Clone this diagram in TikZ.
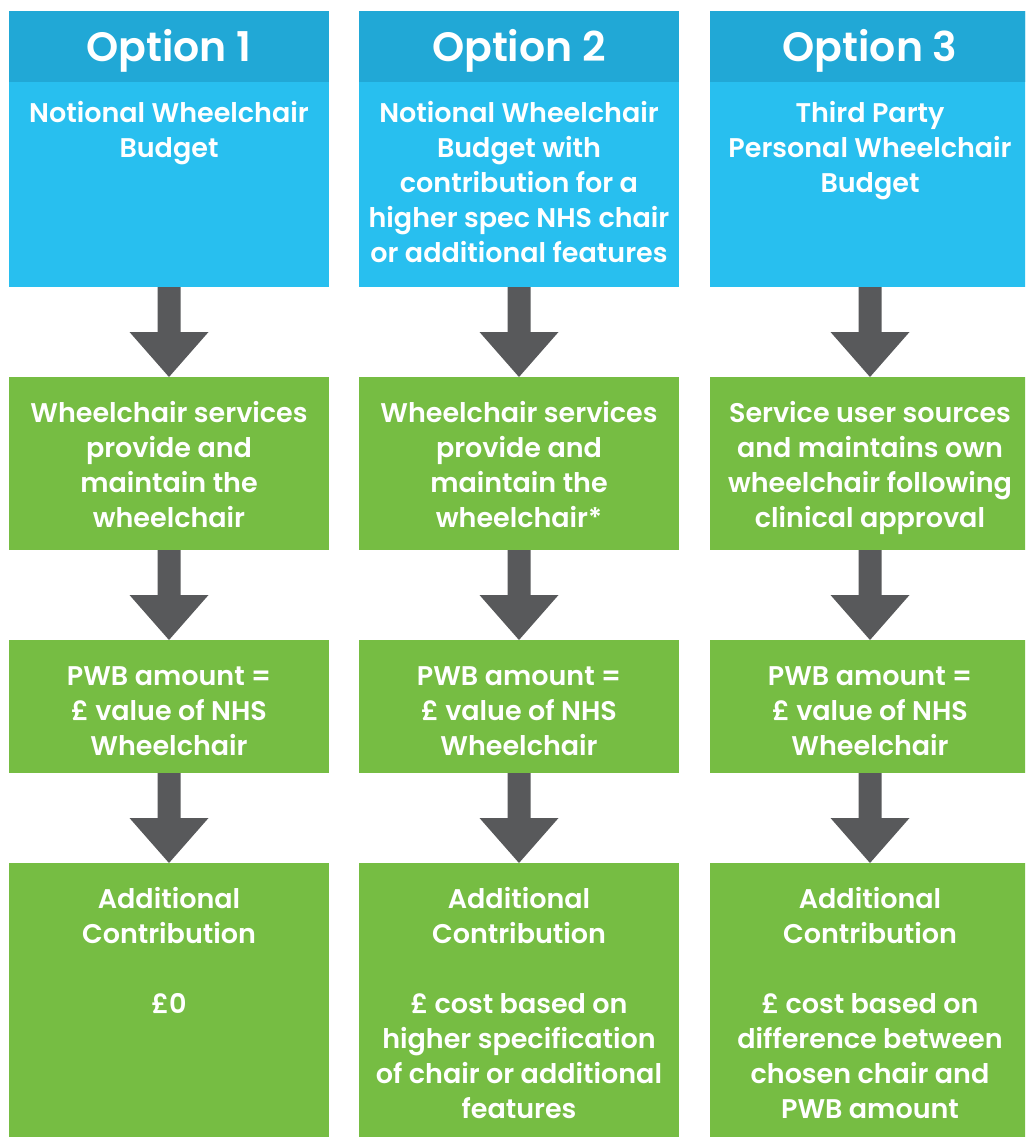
\documentclass[tikz,border=0pt]{standalone}
\usepackage{fontspec}
\setmainfont{Poppins}[BoldFont={Poppins SemiBold}]
\usetikzlibrary{calc}
\definecolor{hdrblue}{RGB}{33,168,214}
\definecolor{boxblue}{RGB}{40,191,239}
\definecolor{boxgreen}{RGB}{118,189,67}
\definecolor{arrowgray}{RGB}{88,89,91}
\tikzset{
 panel/.style={inner sep=0pt, outer sep=0pt, anchor=north west, minimum width=320pt},
 bluepanel/.style={panel, fill=boxblue},
 hdrpanel/.style={panel, fill=hdrblue, minimum height=71pt},
 greenpanel/.style={panel, fill=boxgreen},
 txt/.style={text=white, font=\bfseries\fontsize{27}{35}\selectfont, align=center, inner sep=0pt, anchor=north},
 hdrtxt/.style={text=white, font=\bfseries\fontsize{41}{50}\selectfont, inner sep=0pt, anchor=base},
 arrowshape/.style={fill=arrowgray}
}
\newcommand\blockarrow[2]{%
  \fill[arrowshape] let \p1=(#1.south), \p2=(#2.north), \p3=($(#1.south)!0.5!(#2.north)$) in
    (\x1-11.5pt,\y1) -- (\x1+11.5pt,\y1) -- (\x1+11.5pt,\y3) -- (\x1+39.5pt,\y3) --
    (\x1,\y2) -- (\x1-39.5pt,\y3) -- (\x1-11.5pt,\y3) -- cycle;}
\begin{document}
\begin{tikzpicture}[x=1pt,y=-1pt]
\useasboundingbox (0,0) rectangle (1025,1137);
\clip (0,0) rectangle (1025,1137);
% column 1
\node[bluepanel, minimum height=276pt] (b1) at (9,11) {};
\node[hdrpanel] (h1) at (9,11) {};
\node[greenpanel, minimum height=173pt] (g1) at (9,377) {};
\node[greenpanel, minimum height=133pt] (p1) at (9,640) {};
\node[greenpanel, minimum height=274pt] (a1) at (9,863) {};
% column 2
\node[bluepanel, minimum height=276pt] (b2) at (359,11) {};
\node[hdrpanel] (h2) at (359,11) {};
\node[greenpanel, minimum height=173pt] (g2) at (359,377) {};
\node[greenpanel, minimum height=133pt] (p2) at (359,640) {};
\node[greenpanel, minimum height=274pt] (a2) at (359,863) {};
% column 3
\node[bluepanel, minimum height=276pt] (b3) at (710,11) {};
\node[hdrpanel] (h3) at (710,11) {};
\node[greenpanel, minimum height=173pt] (g3) at (710,377) {};
\node[greenpanel, minimum height=133pt] (p3) at (710,640) {};
\node[greenpanel, minimum height=274pt] (a3) at (710,863) {};
% arrows
\blockarrow{b1}{g1}\blockarrow{g1}{p1}\blockarrow{p1}{a1}
\blockarrow{b2}{g2}\blockarrow{g2}{p2}\blockarrow{p2}{a2}
\blockarrow{b3}{g3}\blockarrow{g3}{p3}\blockarrow{p3}{a3}
% texts column 1
\node[hdrtxt] (o1) at (169,62) {Option 1};
\node[txt] (n1) at (169,97.5) {\strut Notional Wheelchair\\Budget};
\node[txt] (w1) at (169,397.5) {\strut Wheelchair services\\provide and\\maintain the\\wheelchair};
\node[txt] (v1) at (169,660.5) {\strut PWB amount =\\£ value of NHS\\Wheelchair};
\node[txt] (c1) at (169,883.5) {\strut Additional\\Contribution\\[35pt]£0};
% texts column 2
\node[hdrtxt] (o2) at (519,62) {Option 2};
\node[txt] (n2) at (519,97.5) {\strut Notional Wheelchair\\Budget with\\contribution for a\\higher spec NHS chair\\or additional features};
\node[txt] (w2) at (519,397.5) {\strut Wheelchair services\\provide and\\maintain the\\wheelchair*};
\node[txt] (v2) at (519,660.5) {\strut PWB amount =\\£ value of NHS\\Wheelchair};
\node[txt] (c2) at (519,883.5) {\strut Additional\\Contribution\\[35pt]£ cost based on\\higher specification\\of chair or additional\\features};
% texts column 3
\node[hdrtxt] (o3) at (870,62) {Option 3};
\node[txt] (n3) at (870,97.5) {\strut Third Party\\Personal Wheelchair\\Budget};
\node[txt] (w3) at (870,397.5) {\strut Service user sources\\and maintains own\\wheelchair following\\clinical approval};
\node[txt] (v3) at (870,660.5) {\strut PWB amount =\\£ value of NHS\\Wheelchair};
\node[txt] (c3) at (870,883.5) {\strut Additional\\Contribution\\[35pt]£ cost based on\\difference between\\chosen chair and\\PWB amount};
\end{tikzpicture}
\end{document}
